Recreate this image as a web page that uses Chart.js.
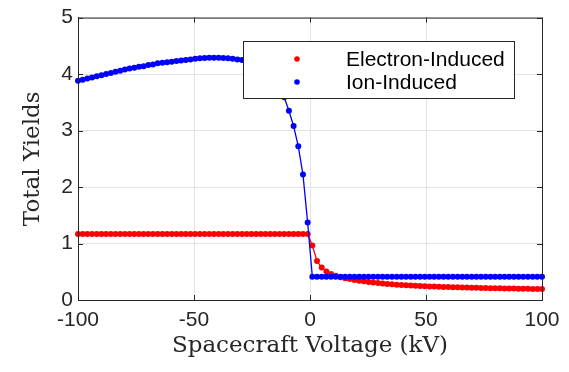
<!DOCTYPE html>
<html lang="en">
<head>
  <meta charset="UTF-8">
  <title>Total Yields</title>
  <script src="https://cdn.jsdelivr.net/npm/chart.js@4.4.0/dist/chart.umd.min.js"></script>
  <style>
    body { margin: 0; background: #fff; }
  </style>
</head>
<body>

<canvas id="chart" width="569" height="372"></canvas>

<script>
// spacecraft voltage (kV), 100 samples from -100 to 100
const voltage = [
  -100, -97.98, -95.96, -93.94, -91.92, -89.9, -87.88, -85.86, -83.84, -81.82,
  -79.8, -77.78, -75.76, -73.74, -71.72, -69.7, -67.68, -65.66, -63.64, -61.62,
  -59.6, -57.58, -55.56, -53.54, -51.52, -49.49, -47.47, -45.45, -43.43, -41.41,
  -39.39, -37.37, -35.35, -33.33, -31.31, -29.29, -27.27, -25.25, -23.23, -21.21,
  -19.19, -17.17, -15.15, -13.13, -11.11, -9.09, -7.07, -5.05, -3.03, -1.01,
  1.01, 3.03, 5.05, 7.07, 9.09, 11.11, 13.13, 15.15, 17.17, 19.19,
  21.21, 23.23, 25.25, 27.27, 29.29, 31.31, 33.33, 35.35, 37.37, 39.39,
  41.41, 43.43, 45.45, 47.47, 49.49, 51.52, 53.54, 55.56, 57.58, 59.6,
  61.62, 63.64, 65.66, 67.68, 69.7, 71.72, 73.74, 75.76, 77.78, 79.8,
  81.82, 83.84, 85.86, 87.88, 89.9, 91.92, 93.94, 95.96, 97.98, 100
];

const electronYield = [
  1.17, 1.17, 1.17, 1.17, 1.17, 1.17, 1.17, 1.17, 1.17, 1.17,
  1.17, 1.17, 1.17, 1.17, 1.17, 1.17, 1.17, 1.17, 1.17, 1.17,
  1.17, 1.17, 1.17, 1.17, 1.17, 1.17, 1.17, 1.17, 1.17, 1.17,
  1.17, 1.17, 1.17, 1.17, 1.17, 1.17, 1.17, 1.17, 1.17, 1.17,
  1.17, 1.17, 1.17, 1.17, 1.17, 1.17, 1.17, 1.17, 1.17, 1.17,
  0.965, 0.69, 0.575, 0.505, 0.46, 0.43, 0.405, 0.385, 0.37, 0.355,
  0.342, 0.33, 0.32, 0.31, 0.30, 0.292, 0.285, 0.278, 0.272, 0.266,
  0.261, 0.256, 0.252, 0.248, 0.244, 0.241, 0.238, 0.235, 0.232, 0.229,
  0.227, 0.224, 0.222, 0.22, 0.218, 0.216, 0.214, 0.212, 0.21, 0.208,
  0.206, 0.205, 0.203, 0.202, 0.2, 0.199, 0.197, 0.196, 0.195, 0.193
];

const ionYield = [
  3.88, 3.90, 3.92, 3.94, 3.96, 3.98, 4.00, 4.02, 4.04, 4.06,
  4.08, 4.10, 4.11, 4.13, 4.14, 4.16, 4.17, 4.19, 4.20, 4.21,
  4.22, 4.23, 4.24, 4.25, 4.26, 4.27, 4.28, 4.285, 4.29, 4.29,
  4.29, 4.285, 4.28, 4.27, 4.26, 4.25, 4.22, 4.19, 4.15, 4.10,
  4.03, 3.95, 3.86, 3.74, 3.59, 3.35, 3.08, 2.72, 2.22, 1.37,
  0.41, 0.41, 0.41, 0.41, 0.41, 0.41, 0.41, 0.41, 0.41, 0.41,
  0.41, 0.41, 0.41, 0.41, 0.41, 0.41, 0.41, 0.41, 0.41, 0.41,
  0.41, 0.41, 0.41, 0.41, 0.41, 0.41, 0.41, 0.41, 0.41, 0.41,
  0.41, 0.41, 0.41, 0.41, 0.41, 0.41, 0.41, 0.41, 0.41, 0.41,
  0.41, 0.41, 0.41, 0.41, 0.41, 0.41, 0.41, 0.41, 0.41, 0.41
];

const seriesNames = ['Electron-Induced', 'Ion-Induced'];
const seriesColors = ['#ff0000', '#0000ff'];
const xTicks = [-100, -50, 0, 50, 100];
const yTicks = [0, 1, 2, 3, 4, 5];

const axisColor = '#262626';
const sans = "'Liberation Sans', Arial, sans-serif";
const serif = "'DejaVu Serif', serif";

function toPoints(ys) {
  return voltage.map((v, i) => ({ x: v, y: ys[i] }));
}

// MATLAB style box with inward ticks on all four sides
const boxPlugin = {
  id: 'box',
  afterDatasetsDraw(chart) {
    const { ctx, chartArea: a, scales } = chart;
    const len = 5;
    ctx.save();
    ctx.strokeStyle = axisColor;
    ctx.lineWidth = 1;
    ctx.beginPath();
    ctx.rect(a.left + 0.5, a.top + 0.5, a.right - a.left, a.bottom - a.top);
    xTicks.forEach(t => {
      const px = Math.round(scales.x.getPixelForValue(t)) + 0.5;
      ctx.moveTo(px, a.bottom); ctx.lineTo(px, a.bottom - len);
      ctx.moveTo(px, a.top); ctx.lineTo(px, a.top + len);
    });
    yTicks.forEach(t => {
      const py = Math.round(scales.y.getPixelForValue(t)) + 0.5;
      ctx.moveTo(a.left, py); ctx.lineTo(a.left + len, py);
      ctx.moveTo(a.right, py); ctx.lineTo(a.right - len, py);
    });
    ctx.stroke();
    ctx.restore();
  }
};

// legend box inside the axes, drawn over the curves
const legendPlugin = {
  id: 'boxLegend',
  afterDraw(chart) {
    const ctx = chart.ctx;
    const x0 = 243, y0 = 41, w = 271, h = 57;
    ctx.save();
    ctx.fillStyle = '#fff';
    ctx.fillRect(x0, y0, w, h);
    ctx.strokeStyle = axisColor;
    ctx.lineWidth = 1;
    ctx.strokeRect(x0 + 0.5, y0 + 0.5, w, h);
    ctx.font = '21px ' + sans;
    ctx.textBaseline = 'middle';
    ctx.fillStyle = '#000';
    seriesNames.forEach((name, i) => {
      const cy = y0 + 18 + i * 23;
      ctx.beginPath();
      ctx.arc(x0 + 54, cy, 2.8, 0, Math.PI * 2);
      ctx.fillStyle = seriesColors[i];
      ctx.fill();
      ctx.fillStyle = '#000';
      ctx.fillText(name, x0 + 103, cy + 1);
    });
    ctx.restore();
  }
};

const ctx = document.getElementById('chart').getContext('2d');

const myChart = new Chart(ctx, {
  type: 'line',
  data: {
    datasets: [
      {
        label: seriesNames[0],
        data: toPoints(electronYield),
        borderColor: seriesColors[0],
        backgroundColor: seriesColors[0],
        borderWidth: 1.3,
        pointRadius: 3,
        pointBorderWidth: 0,
        tension: 0,
        clip: 5,
        order: 1
      },
      {
        label: seriesNames[1],
        data: toPoints(ionYield),
        borderColor: seriesColors[1],
        backgroundColor: seriesColors[1],
        borderWidth: 1.3,
        pointRadius: 3,
        pointBorderWidth: 0,
        tension: 0,
        clip: 5,
        order: 0
      }
    ]
  },
  options: {
    responsive: false,
    animation: false,
    layout: { padding: { top: 15, right: 27, left: 0, bottom: 0 } },
    plugins: {
      legend: { display: false },
      tooltip: { enabled: false }
    },
    scales: {
      x: {
        type: 'linear',
        min: -100,
        max: 100,
        afterBuildTicks: s => { s.ticks = xTicks.map(v => ({ value: v })); },
        afterFit: s => { s.height = 72; },
        grid: { color: '#e3e3e3', drawTicks: false },
        border: { color: axisColor },
        ticks: { color: axisColor, padding: 8, font: { family: sans, size: 21 }, maxRotation: 0 },
        title: {
          display: true,
          text: 'Spacecraft Voltage (kV)',
          color: axisColor,
          font: { family: serif, size: 23 },
          padding: { bottom: 12 }
        }
      },
      y: {
        min: 0,
        max: 5,
        afterBuildTicks: s => { s.ticks = yTicks.map(v => ({ value: v })); },
        afterFit: s => { s.width = 78; },
        grid: { color: '#e3e3e3', drawTicks: false },
        border: { color: axisColor },
        ticks: { color: axisColor, padding: 5, font: { family: sans, size: 21 } },
        title: {
          display: true,
          text: 'Total Yields',
          color: axisColor,
          font: { family: serif, size: 23 },
          padding: { top: 19 }
        }
      }
    }
  },
  plugins: [boxPlugin, legendPlugin]
});
</script>
</body>
</html>
